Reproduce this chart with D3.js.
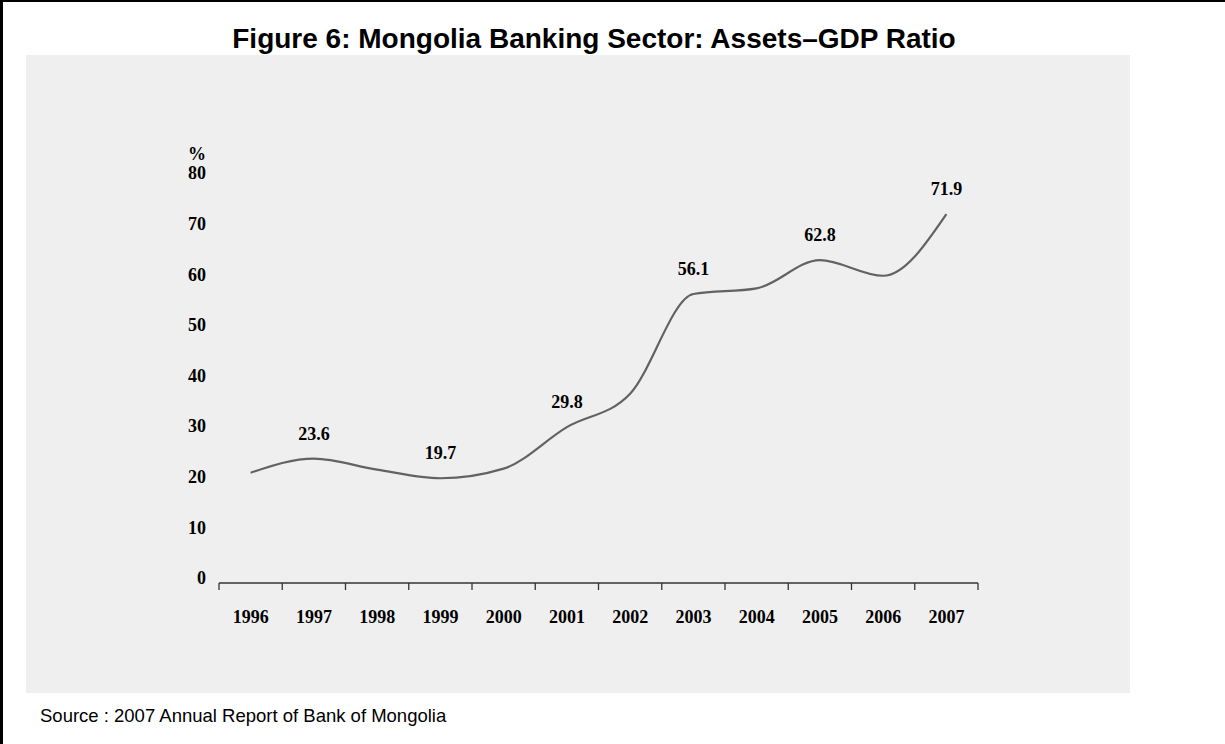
<!DOCTYPE html>
<html>
<head>
<meta charset="utf-8">
<script src="https://cdn.jsdelivr.net/npm/d3@7"></script>
<style>
  html, body { margin: 0; padding: 0; background: #fff; }
  svg { display: block; }
  .title { font-family: "Liberation Sans", Arial, sans-serif; font-weight: bold; font-size: 28px; fill: #000; }
  .source { font-family: "Liberation Sans", Arial, sans-serif; font-size: 18.5px; fill: #000; }
  .tick-text { font-family: "Liberation Serif", "Times New Roman", serif; font-weight: bold; font-size: 18px; fill: #000; }
  .val-text { font-family: "Liberation Serif", "Times New Roman", serif; font-weight: bold; font-size: 18px; fill: #000; }
  .axis-line { stroke: #333; stroke-width: 1.3; fill: none; }
  .series { stroke: #626262; stroke-width: 2.2; fill: none; }
</style>
</head>
<body>
<svg id="chart" width="1225" height="744"></svg>
<script>
// values (assets / GDP, %)
var years = ['1996','1997','1998','1999','2000','2001','2002','2003','2004','2005','2006','2007'];
var ratio = [20.8, 23.6, 21.4, 19.7, 21.6, 29.8, 36.4, 56.1, 57.2, 62.8, 59.7, 71.9];
var labelYears = ['1997','1999','2001','2003','2005','2007'];
var yTicks = [0, 10, 20, 30, 40, 50, 60, 70, 80];

var W = 1225, H = 744;
var svg = d3.select('#chart');

// frame: only top and left edges show in the source
svg.append('line').attr('x1', 0).attr('y1', 1).attr('x2', W).attr('y2', 1)
   .attr('stroke', '#000').attr('stroke-width', 2);
svg.append('line').attr('x1', 1.5).attr('y1', 0).attr('x2', 1.5).attr('y2', H)
   .attr('stroke', '#000').attr('stroke-width', 3);

// grey plot panel
svg.append('rect')
   .attr('x', 26).attr('y', 55).attr('width', 1104).attr('height', 638)
   .attr('fill', '#efefef');

svg.append('text').attr('class', 'title')
   .attr('x', 594).attr('y', 48).attr('text-anchor', 'middle')
   .text('Figure 6: Mongolia Banking Sector: Assets\u2013GDP Ratio');

svg.append('text').attr('class', 'source')
   .attr('x', 40).attr('y', 722)
   .text('Source : 2007 Annual Report of Bank of Mongolia');

var x = d3.scaleBand().domain(years).range([219, 978]);
var y = d3.scaleLinear().domain([0, 80]).range([578, 173]);

var baseY = y(0) + 5; // axis line sits a touch under the zero mark

var g = svg.append('g');

// x axis line with ticks at band edges
g.append('line').attr('class', 'axis-line')
 .attr('x1', x.range()[0]).attr('x2', x.range()[1])
 .attr('y1', baseY).attr('y2', baseY);

var edges = years.map(function(d){ return x(d); }).concat([x.range()[1]]);
g.selectAll('.xtick').data(edges).enter().append('line')
 .attr('class', 'axis-line')
 .attr('x1', function(d){ return d; }).attr('x2', function(d){ return d; })
 .attr('y1', baseY).attr('y2', baseY + 7);

g.selectAll('.xlab').data(years).enter().append('text')
 .attr('class', 'tick-text')
 .attr('x', function(d){ return x(d) + x.bandwidth()/2; })
 .attr('y', baseY + 40)
 .attr('text-anchor', 'middle')
 .text(function(d){ return d; });

// y labels only, no line
g.selectAll('.ylab').data(yTicks).enter().append('text')
 .attr('class', 'tick-text')
 .attr('x', 206)
 .attr('y', function(d){ return y(d); })
 .attr('dy', '0.35em')
 .attr('text-anchor', 'end')
 .text(function(d){ return d; });

g.append('text').attr('class', 'tick-text')
 .attr('x', 188).attr('y', y(80) - 19)
 .attr('dy', '0.35em')
 .text('%');

var pts = years.map(function(d, i){ return { year: d, v: ratio[i] }; });

var line = d3.line()
  .x(function(d){ return x(d.year) + x.bandwidth()/2; })
  .y(function(d){ return y(d.v); })
  .curve(d3.curveMonotoneX);

g.append('path').datum(pts).attr('class', 'series').attr('d', line);

g.selectAll('.val').data(pts.filter(function(d){ return labelYears.indexOf(d.year) >= 0; }))
 .enter().append('text')
 .attr('class', 'val-text')
 .attr('x', function(d){ return x(d.year) + x.bandwidth()/2; })
 .attr('y', function(d){ return y(d.v) - 19; })
 .attr('text-anchor', 'middle')
 .text(function(d){ return d.v.toFixed(1); });
</script>
</body>
</html>
